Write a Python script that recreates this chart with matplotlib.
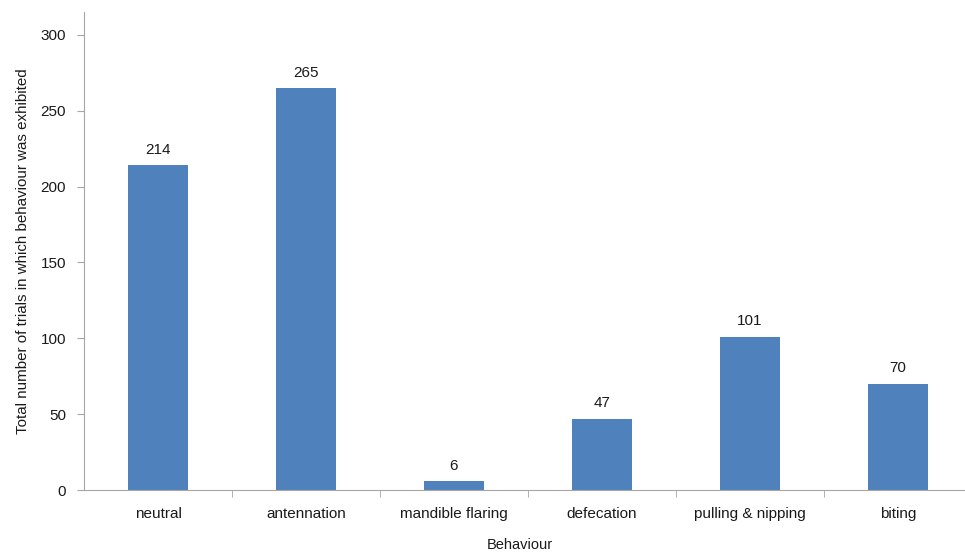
import matplotlib.pyplot as plt

plt.rcParams['font.family'] = ['Liberation Sans', 'DejaVu Sans']

behaviours = ['neutral', 'antennation', 'mandible flaring', 'defecation',
              'pulling & nipping', 'biting']
counts = [214, 265, 6, 47, 101, 70]
yticks = [0, 50, 100, 150, 200, 250, 300]

grey = '#a6a6a6'

fig = plt.figure(figsize=(9.65, 5.56), dpi=100)
ax = fig.add_axes([84 / 965, 66 / 556, 888 / 965, 478 / 556])

x = list(range(len(behaviours)))
ax.bar(x, counts, width=0.4, color='#4f81bd', zorder=2)

for xi, c in zip(x, counts):
    ax.annotate(str(c), (xi, c), xytext=(0, 6), textcoords='offset points',
                ha='center', va='bottom', fontsize=11, color='#1a1a1a')

ax.set_xlim(-0.5, 5.5)
ax.set_ylim(0, 315)
ax.set_yticks(yticks)
ax.set_xticks(x)
ax.set_xticklabels(behaviours, fontsize=11, color='#1a1a1a')
ax.set_xticks([i + 0.5 for i in range(len(behaviours) - 1)], minor=True)
ax.tick_params(axis='x', which='major', length=0, pad=12)
ax.tick_params(axis='x', which='minor', length=5, color=grey, direction='out')
ax.tick_params(axis='y', length=5, color=grey, labelsize=11, labelcolor='#1a1a1a', pad=8)

for s in ['top', 'right']:
    ax.spines[s].set_visible(False)
for s in ['left', 'bottom']:
    ax.spines[s].set_color(grey)

ax.set_ylabel('Total number of trials in which behaviour was exhibited',
              fontsize=10.9, color='#1a1a1a')
ax.yaxis.set_label_coords(-0.061, 0.5)
fig.text(520 / 965, 1 - 545 / 556, 'Behaviour', ha='center', va='center',
         fontsize=10.5, color='#1a1a1a')

fig.savefig('out.png', dpi=100)
